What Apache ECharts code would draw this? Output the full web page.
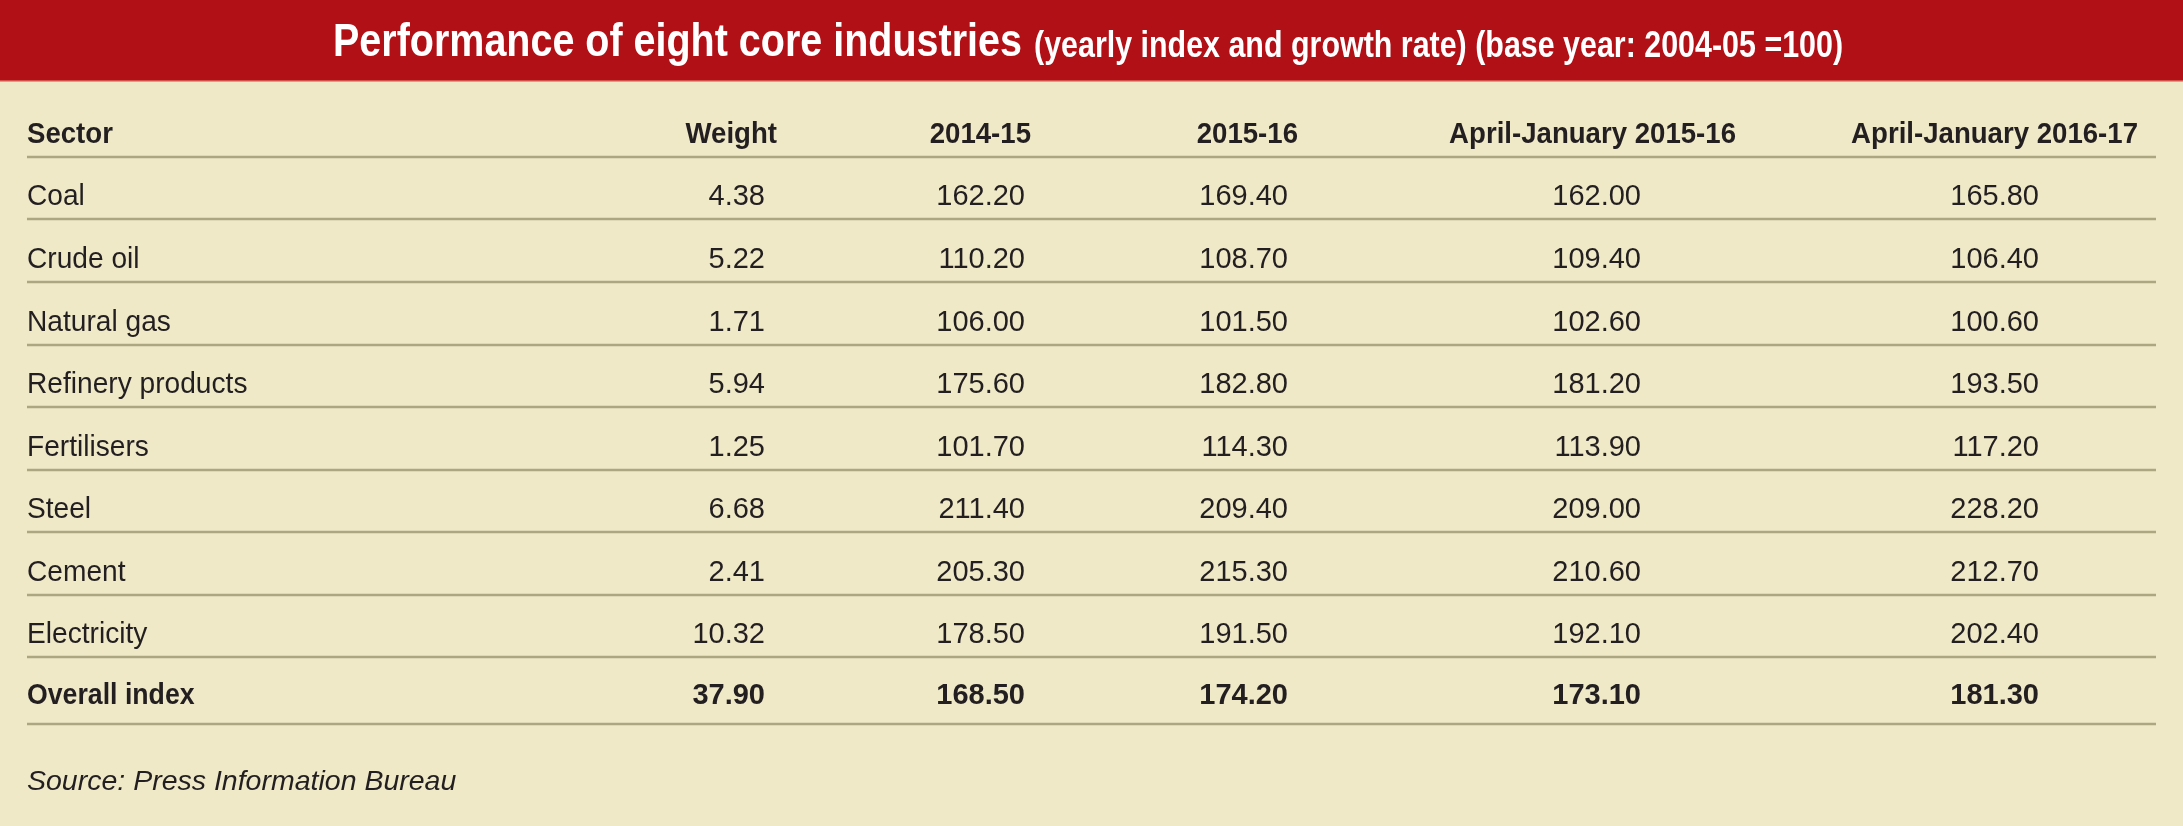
<!DOCTYPE html>
<html>
<head>
<meta charset="utf-8">
<script src="https://cdn.jsdelivr.net/npm/echarts@6/dist/echarts.min.js"></script>
<style>
  html, body { margin: 0; padding: 0; background: #efe9c8; }
  #main { width: 2183px; height: 826px; }
</style>
</head>
<body>
<div id="main"></div>
<script>
// table data
var headers = ['Sector', 'Weight', '2014-15', '2015-16', 'April-January 2015-16', 'April-January 2016-17'];
var sectors = ['Coal', 'Crude oil', 'Natural gas', 'Refinery products', 'Fertilisers', 'Steel', 'Cement', 'Electricity', 'Overall index'];
var weight = [4.38, 5.22, 1.71, 5.94, 1.25, 6.68, 2.41, 10.32, 37.90];
var idx1415 = [162.20, 110.20, 106.00, 175.60, 101.70, 211.40, 205.30, 178.50, 168.50];
var idx1516 = [169.40, 108.70, 101.50, 182.80, 114.30, 209.40, 215.30, 191.50, 174.20];
var aprJan1516 = [162.00, 109.40, 102.60, 181.20, 113.90, 209.00, 210.60, 192.10, 173.10];
var aprJan1617 = [165.80, 106.40, 100.60, 193.50, 117.20, 228.20, 212.70, 202.40, 181.30];

var titleMain = 'Performance of eight core industries';
var titleSub = '(yearly index and growth rate) (base year: 2004-05 =100)';
var source = 'Source: Press Information Bureau';

// layout
var valueCols = [weight, idx1415, idx1516, aprJan1516, aprJan1617];
var headRight = [777, 1031, 1298, 1736, 2138];
var numRight = [765, 1025, 1288, 1641, 2039];
var lineY = [157, 219, 282, 345, 407, 470, 532, 595, 657, 724];
var left = 27, right = 2156;
var font = '"Liberation Sans", Arial, sans-serif';
var ink = '#231f20';

var chart = echarts.init(document.getElementById('main'));
var els = [];

els.push({ type: 'rect', shape: { x: 0, y: 0, width: 2183, height: 826 }, style: { fill: '#efe9c8' }, silent: true });
els.push({ type: 'rect', shape: { x: 0, y: 0, width: 2183, height: 81 }, style: { fill: '#b01016' }, silent: true });
els.push({ type: 'rect', shape: { x: 0, y: 80, width: 2183, height: 1.5 }, style: { fill: '#d2504a' }, silent: true });

els.push({
  type: 'text', x: 333, y: 43, scaleX: 0.84, originX: 0,
  style: { text: titleMain, fill: '#fff', font: 'bold 47px ' + font, align: 'left', verticalAlign: 'middle' }
});
els.push({
  type: 'text', x: 1034, y: 47, scaleX: 0.845, originX: 0,
  style: { text: titleSub, fill: '#fff', font: 'bold 36px ' + font, align: 'left', verticalAlign: 'middle' }
});

// header row
headers.forEach(function (h, i) {
  els.push({
    type: 'text', x: i === 0 ? left : headRight[i - 1], y: 135, scaleX: 0.92, originX: 0,
    style: { text: h, fill: ink, font: 'bold 30px ' + font, align: i === 0 ? 'left' : 'right', verticalAlign: 'middle' }
  });
});

// separator lines
lineY.forEach(function (y) {
  els.push({
    type: 'line', shape: { x1: left, y1: y, x2: right, y2: y },
    style: { stroke: '#aca781', lineWidth: 2.5 }, silent: true
  });
});

// body rows
sectors.forEach(function (s, r) {
  var last = r === sectors.length - 1;
  var base = last ? 706 : lineY[r + 1] - 12;
  var y = base - 10;
  var wt = last ? 'bold ' : '';
  els.push({
    type: 'text', x: left, y: y, scaleX: last ? 0.92 : 0.97, originX: 0,
    style: { text: s, fill: ink, font: wt + '29px ' + font, align: 'left', verticalAlign: 'middle' }
  });
  valueCols.forEach(function (col, c) {
    els.push({
      type: 'text', x: numRight[c], y: y,
      style: { text: col[r].toFixed(2), fill: ink, font: wt + '29px ' + font, align: 'right', verticalAlign: 'middle' }
    });
  });
});

els.push({
  type: 'text', x: left, y: 782,
  style: { text: source, fill: ink, font: 'italic 28.5px ' + font, align: 'left', verticalAlign: 'middle' }
});

chart.setOption({
  backgroundColor: '#efe9c8',
  animation: false,
  graphic: { elements: els }
});
</script>
</body>
</html>
